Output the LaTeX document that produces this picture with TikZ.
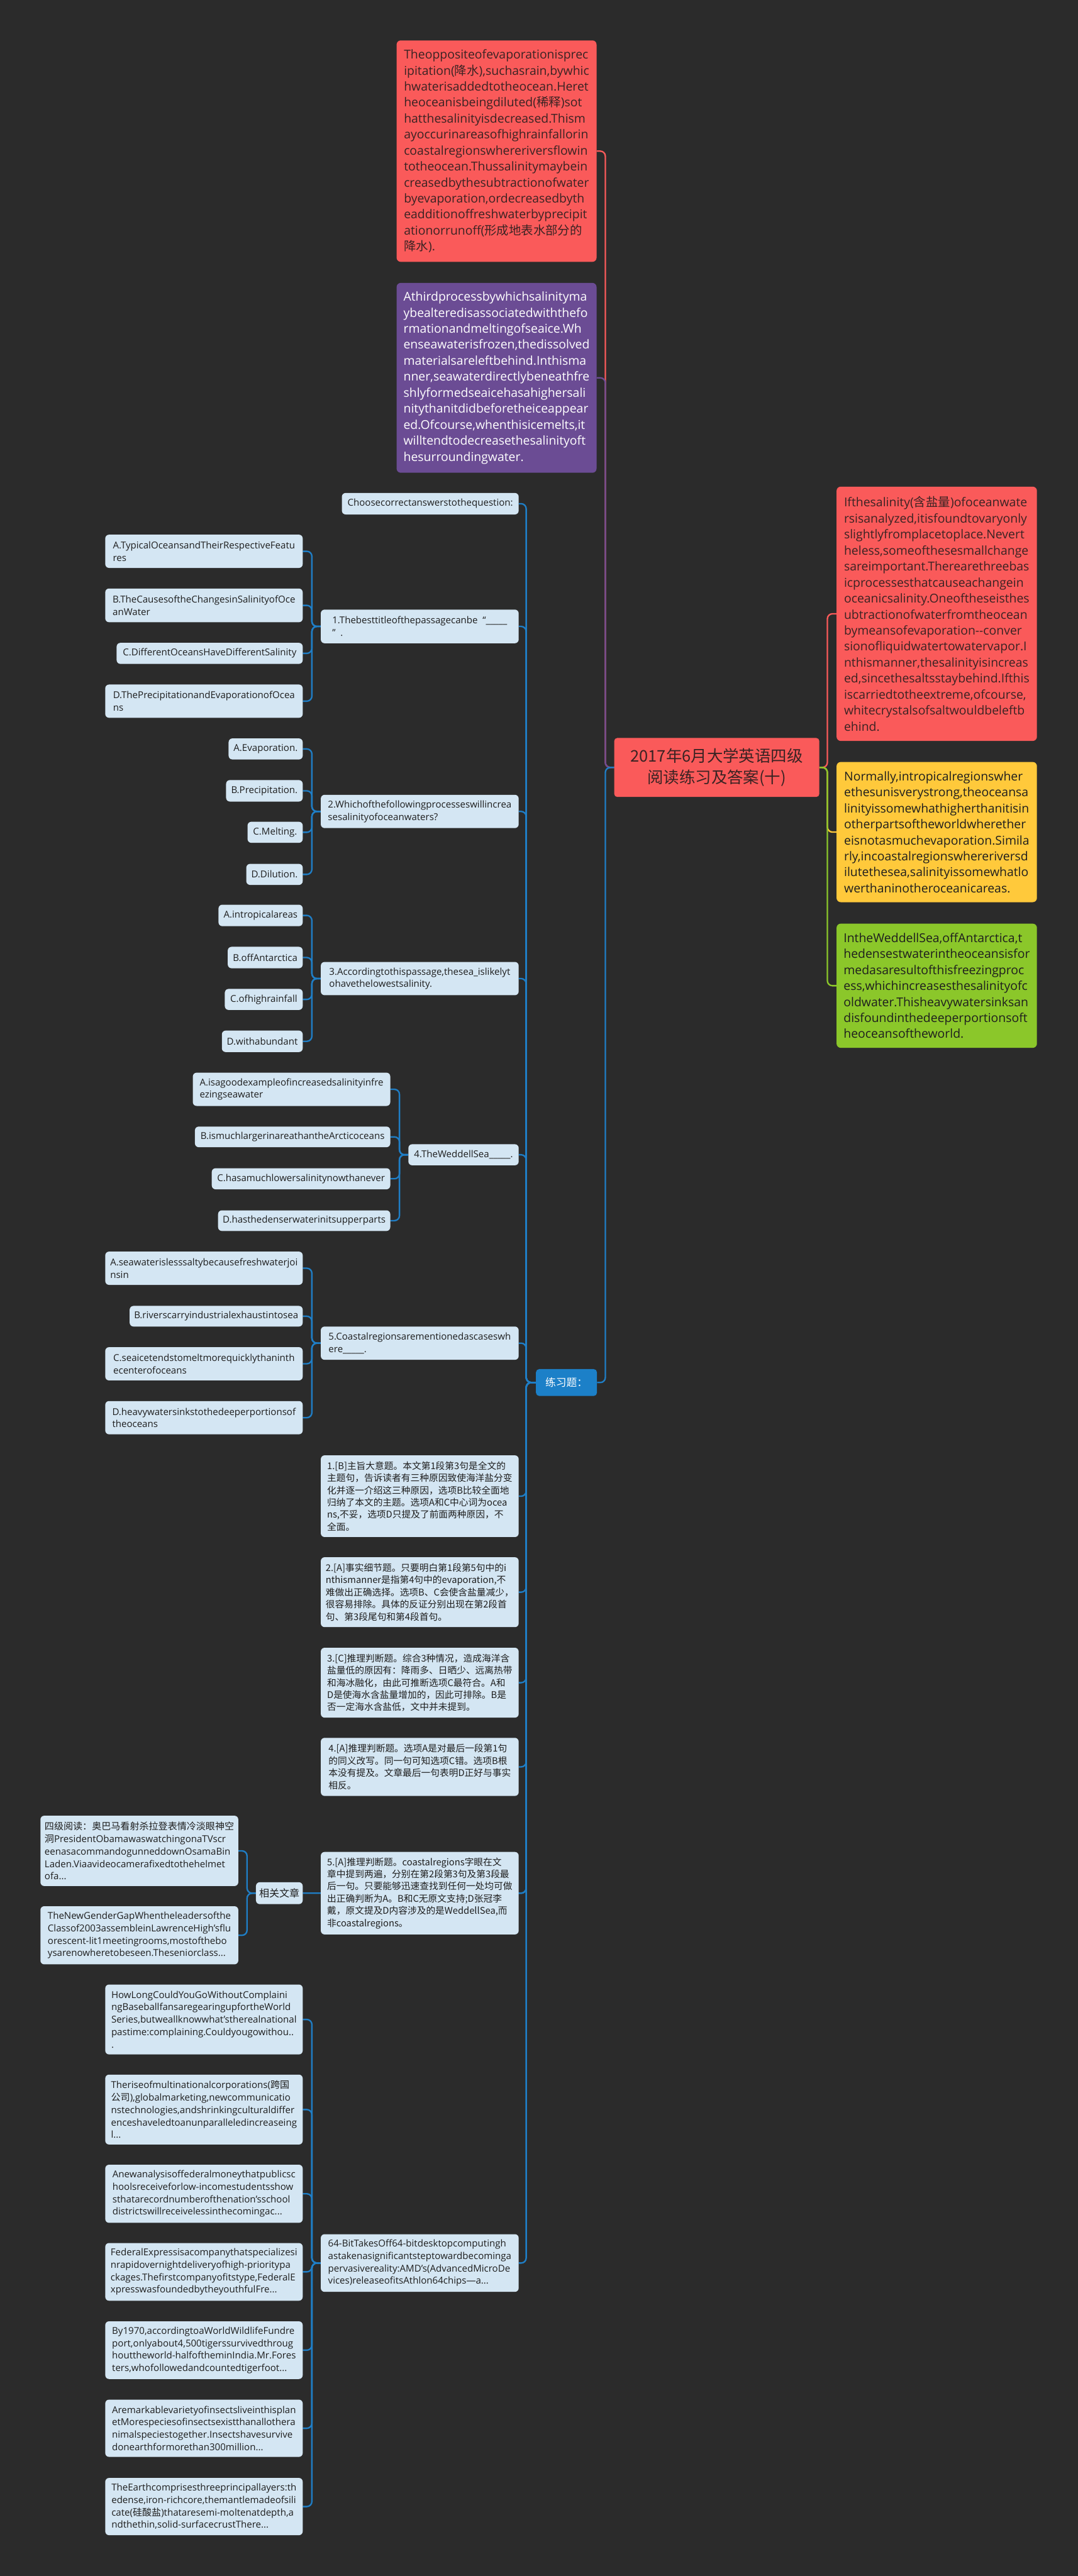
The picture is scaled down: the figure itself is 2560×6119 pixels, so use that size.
\documentclass[tikz,border=0pt]{standalone}
\usepackage{fontspec}
\setmainfont{Open Sans}
\newfontfamily\cjk{Noto Sans CJK SC}
\newcommand\zh[1]{{\cjk #1}}
\pgfdeclarelayer{back}
\pgfdeclarelayer{lines}
\pgfsetlayers{back,lines,main}
\definecolor{bgc}{HTML}{2B2B2B}
\definecolor{lblue}{HTML}{D4E6F3}
\definecolor{bline}{HTML}{1F7EC6}
\definecolor{bfill}{HTML}{1C80C8}
\definecolor{redc}{HTML}{FA5A5A}
\definecolor{purc}{HTML}{6B4C94}
\definecolor{yelc}{HTML}{FFC93B}
\definecolor{grnc}{HTML}{8BC72A}
\definecolor{txt}{HTML}{1E1E1E}
\definecolor{dtxt}{HTML}{3A2323}
\newcommand\mybox[7]{%
  \pgfmathsetmacro\mbW{#5-#3}\pgfmathsetmacro\mbH{#6-#4}%
  \pgfmathsetmacro\mbX{(#3+#5)/2}\pgfmathsetmacro\mbY{(#4+#6)/2}%
  \node[#2, minimum width=\mbW pt, minimum height=\mbH pt] (#1) at (\mbX,\mbY) {#7};}
\tikzset{
  lb/.style={fill=lblue, rounded corners=9pt, inner sep=0pt, align=left, text=txt, font=\fontsize{22.5}{29.5}\selectfont},
  lbz/.style={lb, font=\cjk\fontsize{22}{29}\selectfont},
  bigbox/.style={rounded corners=10pt, inner sep=0pt, align=left, font=\fontsize{29}{38}\selectfont},
  conn/.style={line width=3.5pt, rounded corners=12pt},
}
\begin{document}
\begin{tikzpicture}[x=1pt,y=-1pt]
\useasboundingbox (0,0) rectangle (2560,6119);
\begin{pgfonlayer}{back}
\fill[bgc] (0,0) rectangle (2560,6119);
\end{pgfonlayer}

% central
\mybox{C}{fill=redc, rounded corners=7pt, inner sep=0pt, align=center, text=dtxt, font=\cjk\fontsize{38}{50}\selectfont}{1459}{1753}{1946}{1893}{2017年6月大学英语四级\\阅读练习及答案(十)}

% left big boxes
\mybox{TL}{bigbox, fill=redc, text=dtxt}{942}{96}{1417}{622}{Theoppositeofevaporationisprec\\ipitation(\zh{降水}),suchasrain,bywhic\\hwaterisaddedtotheocean.Heret\\heoceanisbeingdiluted(\zh{稀释})sot\\hatthesalinityisdecreased.Thism\\ayoccurinareasofhighrainfallorin\\coastalregionswhereriversflowin\\totheocean.Thussalinitymaybein\\creasedbythesubtractionofwater\\byevaporation,ordecreasedbyth\\eadditionoffreshwaterbyprecipit\\ationorrunoff(\zh{形成地表水部分的}\\\zh{降水}).}
\mybox{PU}{bigbox, fill=purc, text=white}{942}{672}{1417}{1123}{Athirdprocessbywhichsalinityma\\ybealteredisassociatedwiththefo\\rmationandmeltingofseaice.Wh\\enseawaterisfrozen,thedissolved\\materialsareleftbehind.Inthisma\\nner,seawaterdirectlybeneathfre\\shlyformedseaicehasahighersali\\nitythanitdidbeforetheiceappear\\ed.Ofcourse,whenthisicemelts,it\\willtendtodecreasethesalinityoft\\hesurroundingwater.}

% right big boxes
\mybox{RR}{bigbox, fill=redc, text=dtxt}{1987}{1156}{2463}{1760}{Ifthesalinity(\zh{含盐量})ofoceanwate\\rsisanalyzed,itisfoundtovaryonly\\slightlyfromplacetoplace.Nevert\\heless,someofthesesmallchange\\sareimportant.Therearethreebas\\icprocessesthatcauseachangein\\oceanicsalinity.Oneoftheseisthes\\ubtractionofwaterfromtheocean\\bymeansofevaporation-{}-conver\\sionofliquidwatertowatervapor.I\\nthismanner,thesalinityisincreas\\ed,sincethesaltsstaybehind.Ifthis\\iscarriedtotheextreme,ofcourse,\\whitecrystalsofsaltwouldbeleftb\\ehind.}
\mybox{YE}{bigbox, fill=yelc, text=txt}{1987}{1810}{2463}{2143}{Normally,intropicalregionswher\\ethesunisverystrong,theoceansa\\linityissomewhathigherthanitisin\\otherpartsoftheworldwherether\\eisnotasmuchevaporation.Simila\\rly,incoastalregionswhereriversd\\ilutethesea,salinityissomewhatlo\\werthaninotheroceanicareas.}
\mybox{GR}{bigbox, fill=grnc, text=txt}{1987}{2194}{2463}{2489}{IntheWeddellSea,offAntarctica,t\\hedensestwaterintheoceansisfor\\medasaresultofthisfreezingproc\\ess,whichincreasesthesalinityofc\\oldwater.Thisheavywatersinksan\\disfoundinthedeeperportionsoft\\heoceansoftheworld.}

% practice node
\mybox{P}{fill=bfill, rounded corners=8pt, inner sep=0pt, text=white, font=\cjk\fontsize{25}{30}\selectfont}{1273}{3252}{1418}{3316}{练习题：}

\mybox{CH}{lb}{812}{1171}{1232}{1222}{Choosecorrectanswerstothequestion:}

\mybox{Q1}{lb}{762}{1448}{1232}{1528}{1.Thebesttitleofthepassagecanbe\ \ “\_\_\_\_\_\\”\ \ .}
\mybox{Q1A}{lb}{250}{1270}{719}{1349}{A.TypicalOceansandTheirRespectiveFeatu\\res}
\mybox{Q1B}{lb}{250}{1398}{719}{1478}{B.TheCausesoftheChangesinSalinityofOce\\anWater}
\mybox{Q1C}{lb}{277}{1527}{719}{1577}{C.DifferentOceansHaveDifferentSalinity}
\mybox{Q1D}{lb}{250}{1626}{719}{1705}{D.ThePrecipitationandEvaporationofOcea\\ns}

\mybox{Q2}{lb}{762}{1888}{1232}{1967}{2.Whichofthefollowingprocesseswillincrea\\sesalinityofoceanwaters?}
\mybox{Q2A}{lb}{543}{1754}{719}{1804}{A.Evaporation.}
\mybox{Q2B}{lb}{537}{1853}{719}{1904}{B.Precipitation.}
\mybox{Q2C}{lb}{588}{1952}{719}{2002}{C.Melting.}
\mybox{Q2D}{lb}{585}{2052}{719}{2102}{D.Dilution.}

\mybox{Q3}{lb}{762}{2285}{1232}{2364}{3.Accordingtothispassage,thesea\_islikelyt\\ohavethelowestsalinity.}
\mybox{Q3A}{lb}{519}{2149}{719}{2200}{A.intropicalareas}
\mybox{Q3B}{lb}{541}{2249}{719}{2300}{B.offAntarctica}
\mybox{Q3C}{lb}{534}{2349}{719}{2399}{C.ofhighrainfall}
\mybox{Q3D}{lb}{527}{2448}{719}{2499}{D.withabundant}

\mybox{Q4}{lb}{970}{2718}{1232}{2768}{4.TheWeddellSea\_\_\_\_\_.}
\mybox{Q4A}{lb}{458}{2548}{927}{2627}{A.isagoodexampleofincreasedsalinityinfre\\ezingseawater}
\mybox{Q4B}{lb}{463}{2676}{927}{2725}{B.ismuchlargerinareathantheArcticoceans}
\mybox{Q4C}{lb}{503}{2775}{927}{2825}{C.hasamuchlowersalinitynowthanever}
\mybox{Q4D}{lb}{518}{2875}{927}{2924}{D.hasthedenserwaterinitsupperparts}

\mybox{Q5}{lb}{762}{3151}{1232}{3230}{5.Coastalregionsarementionedascaseswh\\ere\_\_\_\_\_.}
\mybox{Q5A}{lb}{250}{2973}{719}{3052}{A.seawaterislesssaltybecausefreshwaterjoi\\nsin}
\mybox{Q5B}{lb}{308}{3102}{719}{3151}{B.riverscarryindustrialexhaustintosea}
\mybox{Q5C}{lb}{250}{3200}{719}{3279}{C.seaicetendstomeltmorequicklythaninth\\ecenterofoceans}
\mybox{Q5D}{lb}{250}{3328}{719}{3407}{D.heavywatersinkstothedeeperportionsof\\theoceans}

\mybox{A1}{lbz}{762}{3457}{1232}{3651}{1.[B]主旨大意题。本文第1段第3句是全文的\\主题句，告诉读者有三种原因致使海洋盐分变\\化并逐一介绍这三种原因，选项B比较全面地\\归纳了本文的主题。选项A和C中心词为ocea\\ns,不妥，选项D只提及了前面两种原因，不\\全面。}
\mybox{A2}{lbz}{762}{3699}{1232}{3865}{2.[A]事实细节题。只要明白第1段第5句中的i\\nthismanner是指第4句中的evaporation,不\\难做出正确选择。选项B、C会使含盐量减少，\\很容易排除。具体的反证分别出现在第2段首\\句、第3段尾句和第4段首句。}
\mybox{A3}{lbz}{762}{3914}{1232}{4080}{3.[C]推理判断题。综合3种情况，造成海洋含\\盐量低的原因有：降雨多、日晒少、远离热带\\和海冰融化，由此可推断选项C最符合。A和\\D是使海水含盐量增加的，因此可排除。B是\\否一定海水含盐低，文中并未提到。}
\mybox{A4}{lbz}{762}{4128}{1232}{4266}{4.[A]推理判断题。选项A是对最后一段第1句\\的同义改写。同一句可知选项C错。选项B根\\本没有提及。文章最后一句表明D正好与事实\\相反。}
\mybox{A5}{lbz}{762}{4399}{1232}{4595}{5.[A]推理判断题。coastalregions字眼在文\\章中提到两遍，分别在第2段第3句及第3段最\\后一句。只要能够迅速查找到任何一处均可做\\出正确判断为A。B和C无原文支持;D张冠李\\戴，原文提及D内容涉及的是WeddellSea,而\\非coastalregions。}

\mybox{REL}{lb, font=\cjk\fontsize{24}{29}\selectfont}{608}{4471}{719}{4523}{相关文章}
\mybox{R1}{lb}{96}{4313}{566}{4480}{\zh{四级阅读：奥巴马看射杀拉登表情冷淡眼神空}\\\zh{洞}PresidentObamawaswatchingonaTVscr\\eenasacommandogunneddownOsamaBin\\Laden.Viaavideocamerafixedtothehelmet\\ofa...}
\mybox{R2}{lb}{96}{4528}{566}{4666}{TheNewGenderGapWhentheleadersofthe\\Classof2003assembleinLawrenceHigh'sflu\\orescent-lit1meetingrooms,mostofthebo\\ysarenowheretobeseen.Theseniorclass...}

\mybox{BIT}{lb}{762}{5307}{1232}{5444}{64-BitTakesOff64-bitdesktopcomputingh\\astakenasignificantsteptowardbecominga\\pervasivereality:AMD's(AdvancedMicroDe\\vices)releaseofitsAthlon64chips—a...}
\mybox{B1}{lb}{250}{4714}{719}{4880}{HowLongCouldYouGoWithoutComplaini\\ngBaseballfansaregearingupfortheWorld\\Series,butweallknowwhat'stherealnational\\pastime:complaining.Couldyougowithou..\\.}
\mybox{B2}{lb}{250}{4928}{719}{5094}{Theriseofmultinationalcorporations(\zh{跨国}\\\zh{公司}),globalmarketing,newcommunicatio\\nstechnologies,andshrinkingculturaldiffer\\enceshaveledtoanunparalleledincreaseing\\l...}
\mybox{B3}{lb}{250}{5142}{719}{5280}{Anewanalysisoffederalmoneythatpublicsc\\hoolsreceiveforlow-incomestudentsshow\\sthatarecordnumberofthenation’sschool\\districtswillreceivelessinthecomingac...}
\mybox{B4}{lb}{250}{5328}{719}{5465}{FederalExpressisacompanythatspecializesi\\nrapidovernightdeliveryofhigh-prioritypa\\ckages.Thefirstcompanyofitstype,FederalE\\xpresswasfoundedbytheyouthfulFre...}
\mybox{B5}{lb}{250}{5514}{719}{5651}{By1970,accordingtoaWorldWildlifeFundre\\port,onlyabout4,500tigerssurvivedthroug\\houttheworld-halfoftheminIndia.Mr.Fores\\ters,whofollowedandcountedtigerfoot...}
\mybox{B6}{lb}{250}{5700}{719}{5836}{Aremarkablevarietyofinsectsliveinthisplan\\etMorespeciesofinsectsexistthanallothera\\nimalspeciestogether.Insectshavesurvive\\donearthformorethan300million...}
\mybox{B7}{lb}{250}{5886}{719}{6022}{TheEarthcomprisesthreeprincipallayers:th\\edense,iron-richcore,themantlemadeofsili\\cate(\zh{硅酸盐})thataresemi-moltenatdepth,a\\ndthethin,solid-surfacecrustThere...}

\begin{pgfonlayer}{lines}
% centre, left
\draw[conn, redc] (C.west) -- ++(-21,0) |- (TL.east);
\draw[conn, purc] (C.west) -- ++(-21,0) |- (PU.east);
\draw[conn, bline] (C.west) -- ++(-21,0) |- (P.east);
% centre, right
\draw[conn, redc] (C.east) -- ++(19,0) |- (RR.west);
\draw[conn, yelc] (C.east) -- ++(19,0) |- (YE.west);
\draw[conn, grnc] (C.east) -- ++(19,0) |- (GR.west);
% practice children
\foreach \k in {CH,Q1,Q2,Q3,Q4,Q5,A1,A2,A3,A4,A5,REL,BIT}
  \draw[conn, bline] (P.west) -- ++(-23,0) |- (\k.east);
% question options
\foreach \q in {Q1,Q2,Q3,Q4,Q5}
  \foreach \o in {A,B,C,D}
    \draw[conn, bline] (\q.west) -- ++(-21,0) |- (\q\o.east);
\foreach \k in {R1,R2}
  \draw[conn, bline] (REL.west) -- ++(-21,0) |- (\k.east);
\foreach \k in {B1,B2,B3,B4,B5,B6,B7}
  \draw[conn, bline] (BIT.west) -- ++(-21,0) |- (\k.east);
\end{pgfonlayer}
\end{tikzpicture}
\end{document}
